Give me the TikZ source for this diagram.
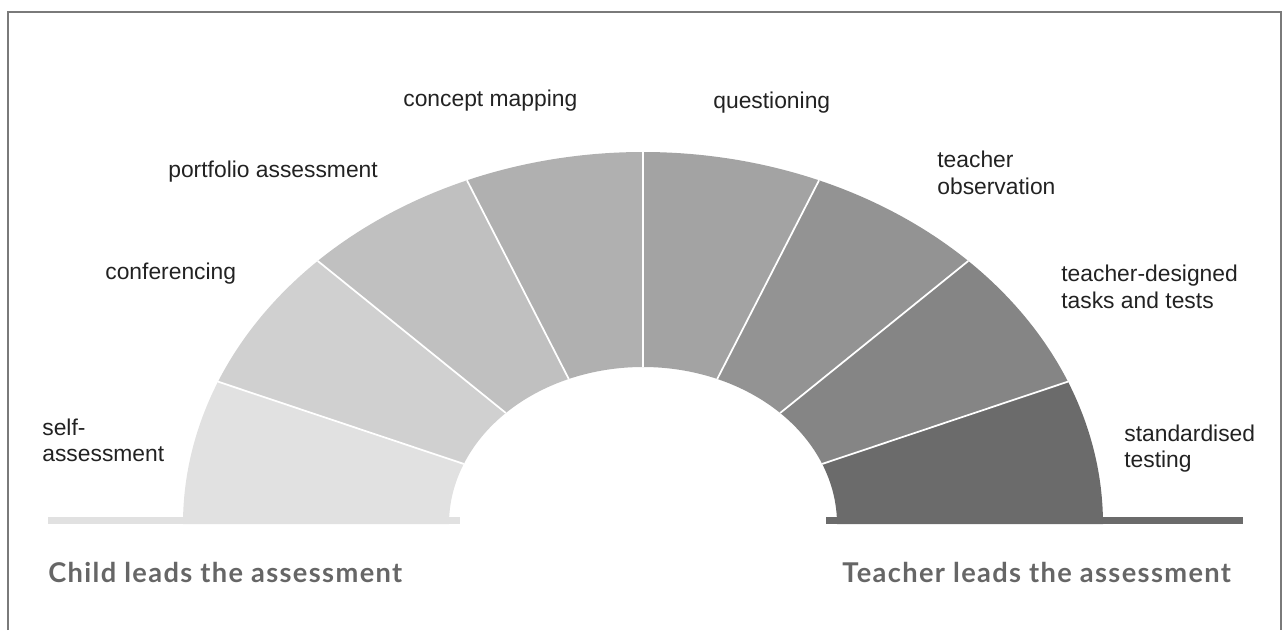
\documentclass[tikz,border=0pt]{standalone}
\usepackage{fontspec}
\setmainfont{Liberation Sans}
\newfontfamily\leadfont[LetterSpace=5]{Lato}
\usepackage{xcolor}
\usepackage{tikz}
\usetikzlibrary{positioning}
\definecolor{segA}{HTML}{E1E1E1}
\definecolor{segB}{HTML}{D0D0D0}
\definecolor{segC}{HTML}{C0C0C0}
\definecolor{segD}{HTML}{B0B0B0}
\definecolor{segE}{HTML}{A3A3A3}
\definecolor{segF}{HTML}{939393}
\definecolor{segG}{HTML}{858585}
\definecolor{segH}{HTML}{6B6B6B}
\definecolor{inkdark}{HTML}{222222}
\definecolor{leadgray}{HTML}{666666}
\definecolor{framegray}{HTML}{7A7A7A}
\tikzset{
  lbl/.style    ={anchor=base west,inner sep=0pt,align=left,text=inkdark,
                  font=\fontsize{13pt}{14.8pt}\selectfont},
  lead/.style   ={anchor=base west,inner sep=0pt,text=leadgray,
                  font=\leadfont\bfseries\fontsize{15.5pt}{18pt}\selectfont},
  divider/.style={draw=white,line width=1pt},
  frameline/.style={draw=framegray,line width=1.2pt}
}
\begin{document}
\begin{tikzpicture}[x=0.02cm,y=0.02cm]
  \useasboundingbox (0,0) rectangle (1286,630);
  \draw[frameline] (8,0) -- (8,618) -- (1281,618) -- (1281,0);
  % base bars
  \fill[segA] (48,106) rectangle (460,113);
  \fill[segH] (826,106) rectangle (1243,113);
  % eight segments of the half ring
  \begin{scope}[shift={(643,106)}]
    \foreach \c [count=\i from 0] in {segA,segB,segC,segD,segE,segF,segG,segH}{
      \pgfmathsetmacro\aa{180-22.5*\i}
      \pgfmathsetmacro\ab{180-22.5*(\i+1)}
      \fill[\c] (\aa:460 and 372)
        arc[start angle=\aa,end angle=\ab,x radius=460,y radius=372]
        -- (\ab:194 and 157)
        arc[start angle=\ab,end angle=\aa,x radius=194,y radius=157] -- cycle;
    }
    \foreach \a in {22.5,45,...,157.5}
      \draw[divider] (\a:194 and 157) -- (\a:460 and 372);
  \end{scope}
  % labels
  \node[lbl] (concept) at (403,523) {concept mapping};
  \node[lbl] (quest) at (713,521) {questioning};
  \node[lbl] (portf) at (168,453) {portfolio assessment};
  \node[lbl] (observ) at (937,436) {teacher\\observation};
  \node[lbl] (confer) at (105,351) {conferencing};
  \node[lbl] (designed) at (1061,322) {teacher-designed\\tasks and tests};
  \node[lbl] (selfas) at (42,169) {self-\\assessment};
  \node[lbl] (standard) at (1124,163) {standardised\\testing};
  \node[lead] (childlead) at (48,48) {Child leads the assessment};
  \node[lead] (teachlead) at (842,48) {Teacher leads the assessment};
\end{tikzpicture}
\end{document}
